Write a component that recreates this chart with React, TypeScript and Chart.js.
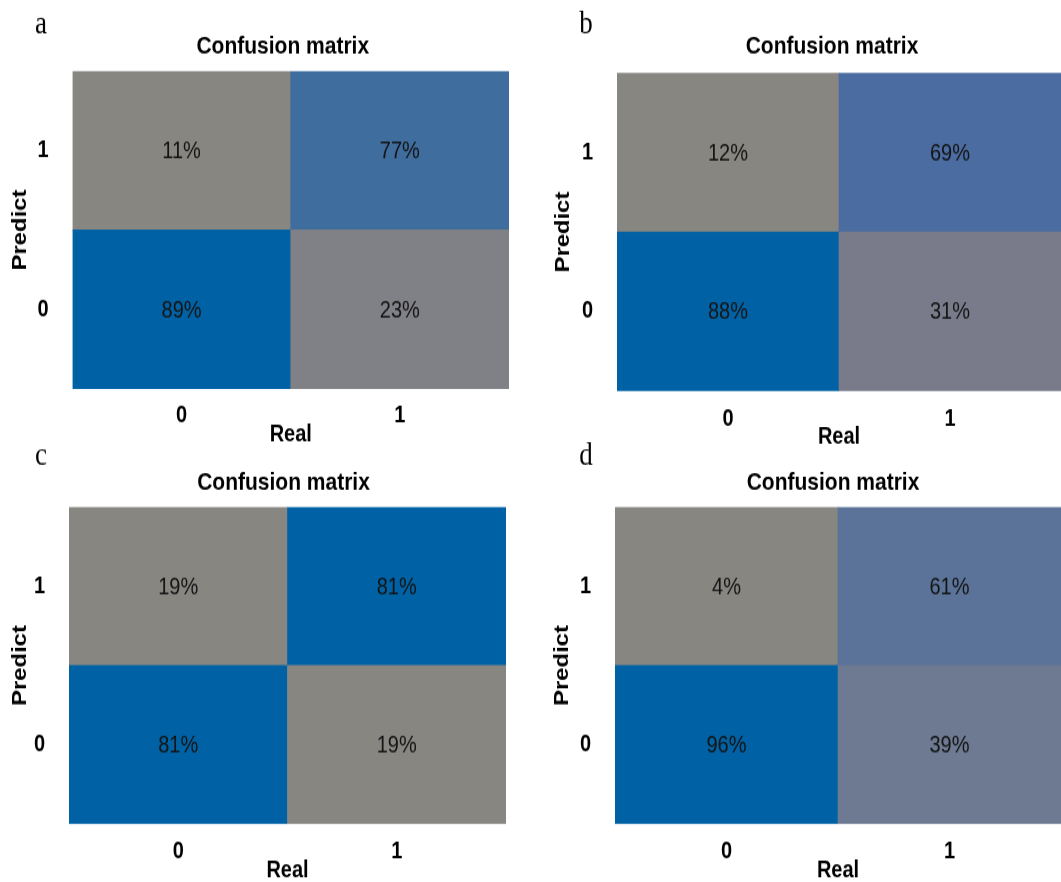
import React, { useEffect, useRef } from 'react';
import { Chart, registerables } from 'chart.js';

Chart.register(...registerables);

// Axis categories and text
const REAL_LABELS = ['0', '1'];
const PREDICT_LABELS = ['0', '1'];
const PANEL_LETTERS = ['a', 'b', 'c', 'd'];
const PANEL_TITLE = 'Confusion matrix';
const X_TITLE = 'Real';
const Y_TITLE = 'Predict';

// Cell percentages per panel, one array per predicted class, ordered by Real = 0, 1
const A_PREDICT_0 = [89, 23];
const A_PREDICT_1 = [11, 77];
const B_PREDICT_0 = [88, 31];
const B_PREDICT_1 = [12, 69];
const C_PREDICT_0 = [81, 19];
const C_PREDICT_1 = [19, 81];
const D_PREDICT_0 = [96, 39];
const D_PREDICT_1 = [4, 61];

const PANEL_MATRICES: number[][][] = [
  [A_PREDICT_0, A_PREDICT_1],
  [B_PREDICT_0, B_PREDICT_1],
  [C_PREDICT_0, C_PREDICT_1],
  [D_PREDICT_0, D_PREDICT_1],
];

// Grey-to-blue colour map, indexed by the value normalised within a panel
const COLOR_STOPS: [number, [number, number, number]][] = [
  [0, [135, 134, 129]],
  [0.15, [128, 128, 135]],
  [0.25, [121, 123, 139]],
  [0.38, [109, 122, 145]],
  [0.62, [91, 115, 153]],
  [0.75, [75, 108, 160]],
  [0.85, [63, 109, 158]],
  [1, [0, 98, 164]],
];

function colorFor(t: number): string {
  const c = Math.max(0, Math.min(1, t));
  for (let i = 1; i < COLOR_STOPS.length; i++) {
    const [t1, c1] = COLOR_STOPS[i];
    const [t0, c0] = COLOR_STOPS[i - 1];
    if (c <= t1) {
      const f = (c - t0) / (t1 - t0 || 1);
      const rgb = c0.map((v, k) => Math.round(v + (c1[k] - v) * f));
      return `rgb(${rgb[0]}, ${rgb[1]}, ${rgb[2]})`;
    }
  }
  const last = COLOR_STOPS[COLOR_STOPS.length - 1][1];
  return `rgb(${last[0]}, ${last[1]}, ${last[2]})`;
}

// The figure is drawn with glyphs taller than they are wide, so every
// panel canvas is rendered short and displayed stretched vertically.
const STRETCH_Y = 1.19;

type PanelLayout = {
  left: number;
  top: number;
  width: number;
  height: number;
  area: { l: number; t: number; r: number; b: number };
  letter: { x: number; y: number };
  titleDx: number;
  titleY: number;
  yTitleX: number;
  xTitleY: number;
  xTickGap: number;
};

// Displayed (page-space) positions relative to each panel's top-left corner
const LAYOUTS: PanelLayout[] = [
  { left: 0, top: 0, width: 530, height: 452, area: { l: 72.5, t: 71, r: 509, b: 389 }, letter: { x: 41, y: 33 }, titleDx: -8, titleY: 47, yTitleX: 20, xTitleY: 435, xTickGap: 27 },
  { left: 530, top: 0, width: 531, height: 452, area: { l: 87, t: 73, r: 531, b: 391 }, letter: { x: 56, y: 33 }, titleDx: -7, titleY: 47, yTitleX: 33, xTitleY: 437, xTickGap: 28 },
  { left: 0, top: 441, width: 530, height: 441, area: { l: 69, t: 66, r: 506, b: 383 }, letter: { x: 41, y: 24 }, titleDx: -4, titleY: 42, yTitleX: 20, xTitleY: 431, xTickGap: 28 },
  { left: 530, top: 441, width: 531, height: 441, area: { l: 85, t: 66, r: 531, b: 383 }, letter: { x: 56, y: 24 }, titleDx: -5, titleY: 42, yTitleX: 32, xTitleY: 431, xTickGap: 28 },
];

const SANS = '"Liberation Sans", Arial, Helvetica, sans-serif';
const SERIF = '"Liberation Serif", "Times New Roman", serif';
const TEXT_SIZE = 20;

// Writes the percentage at the centre of every cell
const cellTextPlugin = {
  id: 'cellText',
  afterDatasetsDraw(chart: any) {
    const ctx = chart.ctx;
    ctx.save();
    ctx.font = `${TEXT_SIZE}px ${SANS}`;
    ctx.fillStyle = '#141414';
    ctx.textAlign = 'center';
    ctx.textBaseline = 'middle';
    chart.data.datasets.forEach((ds: any, di: number) => {
      const meta = chart.getDatasetMeta(di);
      meta.data.forEach((el: any, i: number) => {
        const { x, y, base } = el.getProps(['x', 'y', 'base'], true);
        ctx.fillText(`${ds.values[i]}%`, x, (y + base) / 2 + 1);
      });
    });
    ctx.restore();
  },
};

// Panel letter and heading above the plot area
const headingPlugin = {
  id: 'heading',
  afterDraw(chart: any, _args: any, opts: any) {
    const ctx = chart.ctx;
    const area = chart.chartArea;
    ctx.save();
    ctx.fillStyle = '#000';
    ctx.textAlign = 'center';
    ctx.textBaseline = 'alphabetic';
    ctx.font = `27px ${SERIF}`;
    ctx.fillText(opts.letter, opts.letterX, opts.letterY);
    ctx.textBaseline = 'middle';
    ctx.font = `bold 21px ${SANS}`;
    ctx.fillText(opts.title, (area.left + area.right) / 2 + opts.titleDx, opts.titleY);
    ctx.restore();
  },
};

function MatrixPanel({ index }: { index: number }) {
  const ref = useRef<HTMLCanvasElement | null>(null);
  const lay = LAYOUTS[index];
  const canvasH = Math.round(lay.height / STRETCH_Y);
  const sy = lay.height / canvasH;

  useEffect(() => {
    if (!ref.current) return;
    const matrix = PANEL_MATRICES[index];
    const all = matrix.flat();
    const lo = Math.min(...all);
    const hi = Math.max(...all);

    const areaTop = lay.area.t / sy;
    const areaBottom = lay.area.b / sy;
    const half = TEXT_SIZE / 2;

    const datasets = PREDICT_LABELS.map((label, r) => ({
      label: `Predict ${label}`,
      values: matrix[r],
      data: REAL_LABELS.map(() => [r, r + 1]),
      backgroundColor: matrix[r].map((v) => colorFor((v - lo) / (hi - lo))),
      borderWidth: 0,
      grouped: false,
      barPercentage: 1,
      categoryPercentage: 1,
    }));

    const labelFont = { family: SANS, size: TEXT_SIZE, weight: 'bold', lineHeight: 1 };

    const chart = new Chart(ref.current, {
      type: 'bar',
      data: { labels: REAL_LABELS, datasets: datasets as any },
      plugins: [cellTextPlugin, headingPlugin],
      options: {
        animation: false,
        responsive: false,
        devicePixelRatio: 1,
        events: [],
        layout: {
          padding: { top: areaTop, left: 0, right: lay.width - lay.area.r, bottom: 0 },
        },
        plugins: {
          legend: { display: false },
          tooltip: { enabled: false },
          heading: {
            letter: PANEL_LETTERS[index],
            letterX: lay.letter.x,
            letterY: lay.letter.y / sy,
            title: PANEL_TITLE,
            titleDx: lay.titleDx,
            titleY: lay.titleY / sy,
          },
        } as any,
        scales: {
          x: {
            type: 'category',
            grid: { display: false, drawTicks: false },
            border: { display: false },
            ticks: {
              color: '#000',
              font: labelFont,
              padding: lay.xTickGap / sy - half,
            },
            title: {
              display: true,
              text: X_TITLE,
              color: '#000',
              font: labelFont,
              padding: { top: 0, bottom: Math.max(0, canvasH - half - lay.xTitleY / sy) },
            },
            afterFit: (scale: any) => {
              scale.height = canvasH - areaBottom;
            },
          },
          y: {
            type: 'linear',
            min: 0,
            max: PREDICT_LABELS.length,
            grid: { display: false, drawTicks: false },
            border: { display: false },
            afterBuildTicks: (scale: any) => {
              scale.ticks = PREDICT_LABELS.map((_, r) => ({ value: r + 0.5 }));
            },
            ticks: {
              color: '#000',
              font: labelFont,
              padding: 24,
              callback: (value: any) => PREDICT_LABELS[Math.floor(Number(value))],
            },
            title: {
              display: true,
              text: Y_TITLE,
              color: '#000',
              font: labelFont,
              padding: { top: lay.yTitleX - half, bottom: 0 },
            },
            afterFit: (scale: any) => {
              scale.width = lay.area.l;
            },
          },
        },
      } as any,
    });
    return () => chart.destroy();
  }, [index]);

  return (
    <canvas
      ref={ref}
      width={lay.width}
      height={canvasH}
      style={{
        position: 'absolute',
        left: lay.left,
        top: lay.top,
        width: `${lay.width}px`,
        height: `${lay.height}px`,
      }}
    />
  );
}

export default function App() {
  return (
    <div
      style={{
        position: 'absolute',
        left: 0,
        top: 0,
        width: 1061,
        height: 882,
        background: '#fff',
        overflow: 'hidden',
      }}
    >
      {LAYOUTS.map((_, i) => (
        <MatrixPanel key={i} index={i} />
      ))}
    </div>
  );
}
